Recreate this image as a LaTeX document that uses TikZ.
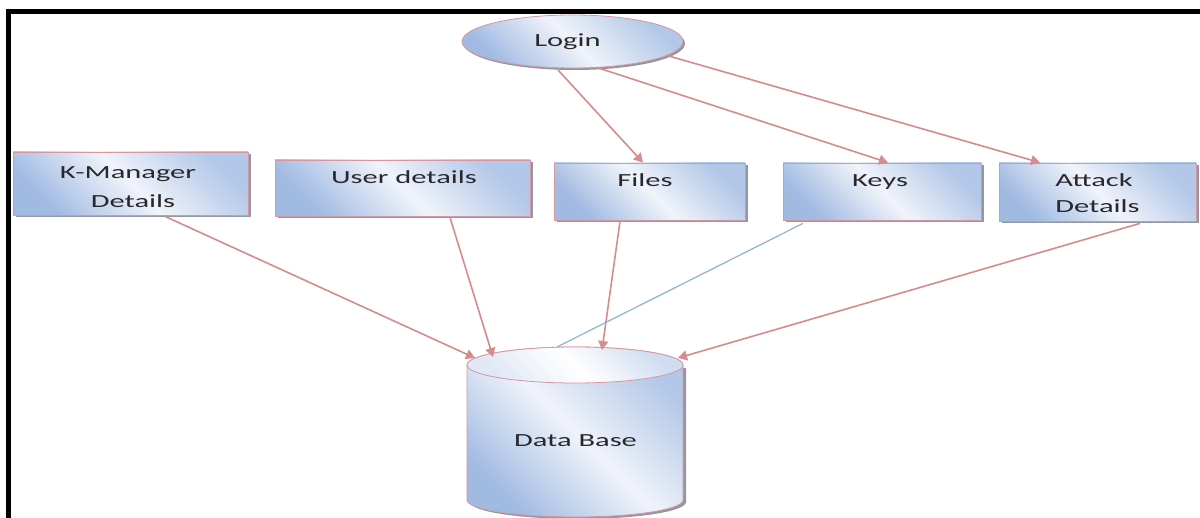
\documentclass[tikz,border=0pt]{standalone}
\usepackage{fontspec}
\setmainfont{Carlito}[FakeStretch=1.65]
\usetikzlibrary{arrows.meta,shadows,calc,shapes.geometric}
\definecolor{arrowc}{RGB}{212,140,140}
\definecolor{keyline}{RGB}{140,180,210}
\definecolor{boxblue}{RGB}{160,186,226}
\definecolor{boxlight}{RGB}{240,243,250}
\definecolor{boxedge}{RGB}{215,150,160}
\definecolor{shadowc}{RGB}{130,132,145}
\definecolor{txt}{RGB}{40,40,45}
\begin{document}
\begin{tikzpicture}[x=1pt,y=1pt,
  font=\fontsize{18.5}{26}\selectfont,
  bshade/.style={left color=boxblue, right color=boxblue!80!white, middle color=boxlight, shading angle=135},
  box/.style={rectangle, draw=boxedge, line width=0.8pt, bshade, inner sep=0pt,
    drop shadow={shadow xshift=2.5pt, shadow yshift=-2.5pt, fill=shadowc, opacity=0.85}},
  lbl/.style={anchor=base, text=txt, inner sep=0pt},
  conn/.style={draw=arrowc, line width=1.6pt, -{Triangle[length=9pt,width=10pt]}},
  plain/.style={draw=keyline, line width=1.2pt}
]
\useasboundingbox (0,0) rectangle (1200,518);
\fill[white] (0,0) rectangle (1200,518);
% frame
\draw[line width=5pt, line join=miter] (8.5,0) -- (8.5,506.5) -- (1200,506.5);

% login
\node[ellipse, draw=boxedge, line width=0.8pt, bshade, minimum width=221pt, minimum height=53pt, inner sep=0pt,
  drop shadow={shadow xshift=2pt, shadow yshift=-2pt, fill=shadowc, opacity=0.85}] (login) at (572.5,476.5) {};
\node[lbl] (logint) at (567.5,471.3) {Login};

% boxes
\node[box, minimum width=235pt, minimum height=63pt] (kmgr) at (130.5,334.5) {};
\node[box, minimum width=255pt, minimum height=56pt] (user) at (402.5,330) {};
\node[box, minimum width=191pt, minimum height=57pt] (files) at (649.5,326.5) {};
\node[box, minimum width=198pt, minimum height=57pt] (keys) at (882,326.5) {};
\node[box, minimum width=197pt, minimum height=58pt] (attack) at (1097.5,326) {};

\node[lbl] (kmgrt1) at (128,339) {K-Manager};
\node[lbl] (kmgrt2) at (133,310) {Details};
\node[lbl] (usert) at (404,334) {User details};
\node[lbl] (filest) at (645,331) {Files};
\node[lbl] (keyst) at (880,331) {Keys};
\node[lbl] (attackt1) at (1094,331) {Attack};
\node[lbl] (attackt2) at (1097.5,305) {Details};

% data base cylinder
\fill[shadowc, opacity=0.85] (470,150) -- (470,16) arc[start angle=180,end angle=360,x radius=108,y radius=17] -- (686,150) -- cycle;
\path[bshade, draw=boxedge, line width=0.8pt] (467,153) -- (467,18) arc[start angle=180,end angle=360,x radius=108,y radius=17] -- (683,153) arc[start angle=0,end angle=180,x radius=108,y radius=18] -- cycle;
\path[left color=boxlight!80!boxblue, right color=boxblue!50!white, middle color=white, shading angle=135, draw=boxedge, line width=0.8pt] (575,153) ellipse [x radius=108, y radius=18];
\node[lbl] (db) at (575.5,71.3) {Data Base};
\coordinate (dbtop) at (575,153);

% connectors
\draw[conn] ($(login.center)+(-14.5,-28.5)$) -- ($(files.north)+(-6.5,0)$);
\draw[conn] ($(login.center)+(24.5,-26)$) -- ($(keys.north)+(6,0)$);
\draw[conn] ($(login.center)+(94.5,-14)$) -- ($(attack.north)+(-57.5,0)$);

\draw[conn] ($(kmgr.south)+(34.5,-1)$) -- ($(dbtop)+(-100,7)$);
\draw[conn] ($(user.south)+(47.5,-1)$) -- ($(dbtop)+(-82,8)$);
\draw[conn] ($(files.south)+(-29.5,-1)$) -- ($(dbtop)+(27,15)$);
\draw[plain] ($(keys.south)+(-79,-3)$) -- ($(dbtop)+(-18,18)$);
\draw[conn] ($(attack.south)+(42.5,-2)$) -- ($(dbtop)+(103,7)$);
\end{tikzpicture}
\end{document}
